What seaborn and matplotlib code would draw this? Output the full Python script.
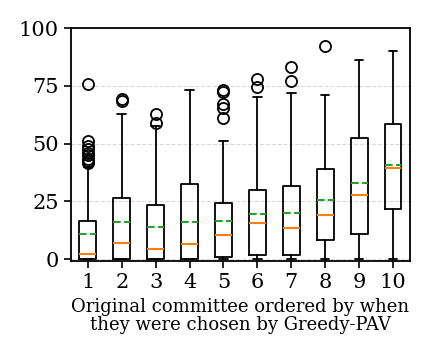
import matplotlib
matplotlib.use("Agg")
import seaborn as sns
from matplotlib import pyplot as plt

# position of each committee member in the Greedy-PAV order
positions = [1, 2, 3, 4, 5, 6, 7, 8, 9, 10]

# box statistics
whis_low = [0, 0, 0, 0, 0, 0, 0, 0, 0, 0]
q1 = [0, 0, 0, 0, 1.0, 1.9, 1.9, 8.1, 11.0, 21.8]
medians = [2.0, 7.1, 4.2, 6.7, 10.3, 15.6, 13.6, 18.9, 27.6, 39.4]
means = [11.0, 16.2, 14.0, 16.2, 16.6, 19.5, 20.1, 25.6, 32.8, 40.7]
q3 = [16.5, 26.4, 23.4, 32.7, 24.4, 29.8, 31.6, 39.0, 52.3, 58.3]
whis_high = [40.0, 63.0, 57.5, 73.1, 51.0, 70.1, 72.0, 71.0, 86.0, 89.9]
outliers = [
    [41.5, 42.5, 43.5, 45, 46, 47.5, 49, 51, 76],
    [68.5, 69.2],
    [59.1, 63.0],
    [],
    [61.2, 65.5, 67.3, 72.2, 73.4],
    [74.3, 77.9],
    [77.2, 83.0],
    [92.1],
    [],
    [],
]

sns.set_style("ticks", {"axes.edgecolor": "black", "xtick.color": "black",
                        "ytick.color": "black", "text.color": "black",
                        "axes.labelcolor": "black"})
plt.rcParams["font.family"] = ["DejaVu Serif"]

stats = []
for i in range(len(positions)):
    stats.append({
        "whislo": whis_low[i],
        "q1": q1[i],
        "med": medians[i],
        "mean": means[i],
        "q3": q3[i],
        "whishi": whis_high[i],
        "fliers": outliers[i],
    })

fig, ax = plt.subplots(figsize=(4.32, 3.6), dpi=100)
fig.subplots_adjust(left=0.164, right=0.949, top=0.922, bottom=0.274)

lw = 1.3
ax.bxp(stats, positions=positions, showmeans=True, meanline=True,
       boxprops={"color": "black", "linewidth": lw},
       whiskerprops={"color": "black", "linewidth": lw},
       capprops={"color": "black", "linewidth": lw},
       medianprops={"color": "C1", "linewidth": 1.5},
       meanprops={"color": "C2", "linestyle": "--", "linewidth": 1.5},
       flierprops={"marker": "o", "markerfacecolor": "none",
                   "markeredgecolor": "black", "markersize": 8,
                   "markeredgewidth": 1.3})

ax.set_ylim(-1, 100)
ax.set_xlim(0.5, 10.5)
ax.set_yticks([0, 25, 50, 75, 100])
ax.yaxis.grid(True, linestyle="--", color="#d9d9d9", linewidth=0.8)
ax.set_axisbelow(True)
for side in ax.spines.values():
    side.set_linewidth(1.3)
ax.tick_params(labelsize=15, width=1.2, length=5)
ax.set_xlabel("Original committee ordered by when\nthey were chosen by Greedy-PAV",
              fontsize=13, linespacing=1.05)

plt.savefig("out.png")
